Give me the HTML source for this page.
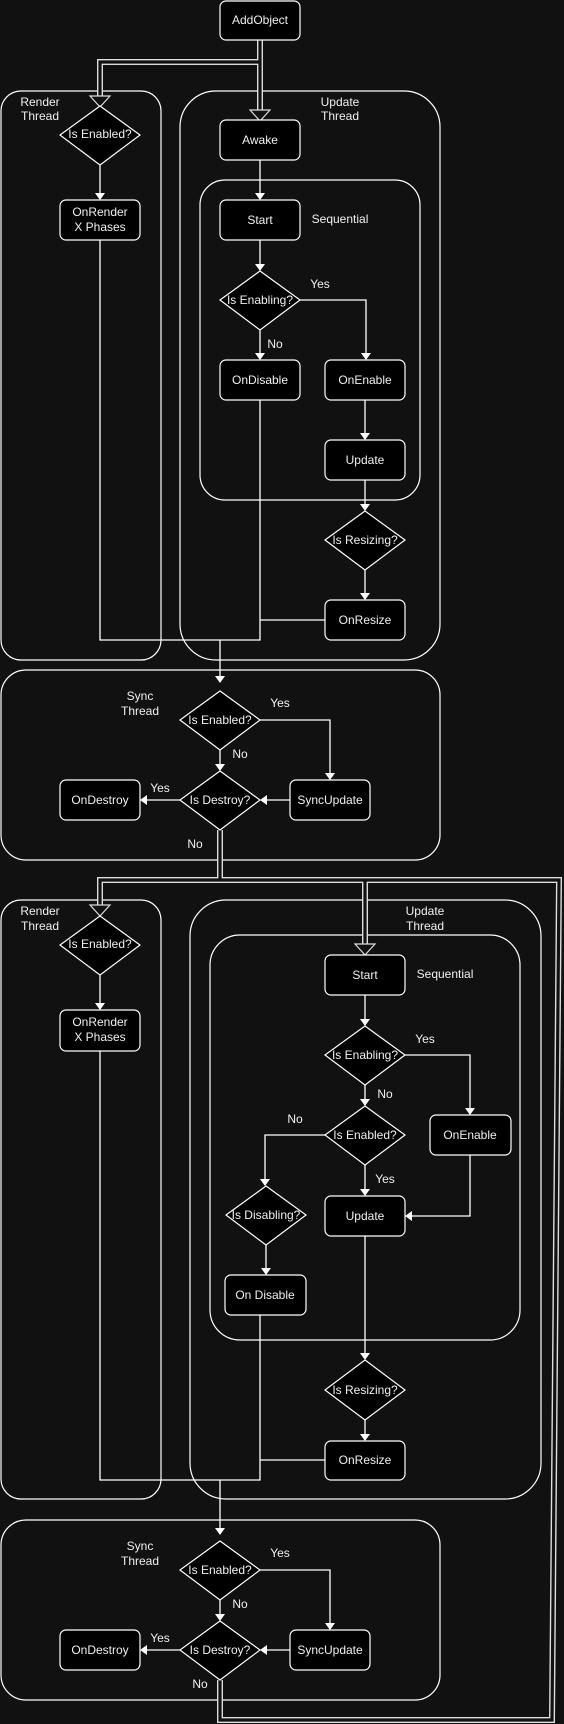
<!DOCTYPE html>
<html><head><meta charset="utf-8"><style>
html,body{margin:0;padding:0;background:#111;}
svg{display:block}
text{font-family:"Liberation Sans",sans-serif;font-size:12px;fill:#f0f0f0;text-anchor:middle;dominant-baseline:middle}
.b{fill:none;stroke:#ddd;stroke-width:6;}
.d{fill:none;stroke:#111;stroke-width:3.2;}
.g{fill:none;stroke:#fff;stroke-width:1.2;}
.l{fill:none;stroke:#fff;stroke-width:1.3;}
.n{fill:#000;stroke:#fff;stroke-width:1.2;}
.ah{fill:#fff;stroke:none}
.ha{fill:#111;stroke:#ddd;stroke-width:1.2}
</style></head><body>
<svg width="564" height="1724" viewBox="0 0 564 1724" xmlns="http://www.w3.org/2000/svg">
<rect width="564" height="1724" fill="#111"/>
<rect class="g" x="1" y="91" width="160" height="569" rx="20"/>
<rect class="g" x="180" y="91" width="260" height="569" rx="36"/>
<rect class="g" x="200" y="180" width="220" height="320" rx="25"/>
<rect class="g" x="1" y="670" width="439" height="190" rx="25"/>
<rect class="g" x="1" y="900" width="160" height="599" rx="20"/>
<rect class="g" x="190" y="900" width="351" height="599" rx="36"/>
<rect class="g" x="210" y="935" width="310" height="405" rx="30"/>
<rect class="g" x="1" y="1520" width="439" height="180" rx="25"/>
<text x="40" y="103">Render</text><text x="40" y="117">Thread</text>
<text x="340" y="103">Update</text><text x="340" y="117">Thread</text>
<text x="340" y="220">Sequential</text>
<text x="140" y="697">Sync</text><text x="140" y="712">Thread</text>
<text x="40" y="912">Render</text><text x="40" y="927">Thread</text>
<text x="425" y="912">Update</text><text x="425" y="927">Thread</text>
<text x="445" y="975">Sequential</text>
<text x="140" y="1547">Sync</text><text x="140" y="1562">Thread</text>

<g>
<path class="b" d="M260,40 V114 M260,62 H100 V101"/>
<path class="b" d="M220,830 V880 H100 V908 M220,880 H365 V947 M220,1680 V1720 H552 L559,880 H365"/>
<path class="d" d="M260,40 V114 M260,62 H100 V101"/>
<path class="d" d="M220,830 V880 H100 V908 M220,880 H365 V947 M220,1680 V1720 H552 L559,880 H365"/>
<polygon class="ha" points="250,110 270,110 260,121"/>
<polygon class="ha" points="90,96 110,96 100,107"/>
<polygon class="ha" points="90,905 110,905 100,916"/>
<polygon class="ha" points="355,944 375,944 365,955"/>
</g>

<path class="l" d="M100,165 V194 M260,160 V194 M260,240 V265 M300,300 H366 V354 M260,330 V354 M365,400 V434 M365,480 V505 M365,570 V594"/>
<path class="l" d="M100,240 V640 H260 V400 M325,620 H260 M220,640 V677"/>
<polygon class="ah" points="95,193 105,193 100,200"/><polygon class="ah" points="255,193 265,193 260,200"/>
<polygon class="ah" points="255,264 265,264 260,271"/><polygon class="ah" points="361,353 371,353 366,360"/>
<polygon class="ah" points="255,353 265,353 260,360"/><polygon class="ah" points="360,433 370,433 365,440"/>
<polygon class="ah" points="360,504 370,504 365,511"/><polygon class="ah" points="360,593 370,593 365,600"/>
<polygon class="ah" points="215,676 225,676 220,683"/>
<path class="l" d="M260,720 H330 V774 M220,750 V765 M290,800 H266 M180,800 H146"/>
<polygon class="ah" points="325,773 335,773 330,780"/><polygon class="ah" points="215,764 225,764 220,771"/>
<polygon class="ah" points="267,795 267,805 260,800"/><polygon class="ah" points="147,795 147,805 140,800"/>
<path class="l" d="M100,975 V1004 M365,995 V1020 M405,1055 H470 V1109 M365,1085 V1100 M325,1135 H265 V1180 M365,1165 V1190 M470,1155 V1216 H411 M266,1245 V1269 M365,1236 V1354 M365,1420 V1435"/>
<path class="l" d="M100,1051 V1480 H260 V1315 M325,1460 H260 M220,1480 V1529"/>
<polygon class="ah" points="95,1003 105,1003 100,1010"/><polygon class="ah" points="360,1019 370,1019 365,1026"/>
<polygon class="ah" points="465,1108 475,1108 470,1115"/><polygon class="ah" points="360,1099 370,1099 365,1106"/>
<polygon class="ah" points="260,1179 270,1179 265,1186"/><polygon class="ah" points="360,1189 370,1189 365,1196"/>
<polygon class="ah" points="412,1211 412,1221 405,1216"/><polygon class="ah" points="261,1268 271,1268 266,1275"/>
<polygon class="ah" points="360,1353 370,1353 365,1360"/><polygon class="ah" points="360,1434 370,1434 365,1441"/>
<polygon class="ah" points="215,1528 225,1528 220,1535"/>
<path class="l" d="M260,1570 H330 V1624 M220,1600 V1615 M290,1650 H266 M180,1650 H146"/>
<polygon class="ah" points="325,1623 335,1623 330,1630"/><polygon class="ah" points="215,1614 225,1614 220,1621"/>
<polygon class="ah" points="267,1645 267,1655 260,1650"/><polygon class="ah" points="147,1645 147,1655 140,1650"/>

<rect class="n" x="220" y="1" width="80" height="39" rx="6"/><text x="260" y="21">AddObject</text>
<polygon class="n" points="100,106 140,135 100,165 60,135"/><text x="100" y="135">Is Enabled?</text>
<rect class="n" x="60" y="200" width="80" height="40" rx="6"/><text x="100" y="213">OnRender</text><text x="100" y="228">X Phases</text>
<rect class="n" x="220" y="120" width="80" height="40" rx="6"/><text x="260" y="141">Awake</text>
<rect class="n" x="220" y="200" width="80" height="40" rx="6"/><text x="260" y="221">Start</text>
<polygon class="n" points="260,271 300,300 260,330 220,300"/><text x="260" y="301">Is Enabling?</text>
<text x="320" y="285">Yes</text><text x="275" y="345">No</text>
<rect class="n" x="220" y="360" width="80" height="40" rx="6"/><text x="260" y="381">OnDisable</text>
<rect class="n" x="325" y="360" width="80" height="40" rx="6"/><text x="365" y="381">OnEnable</text>
<rect class="n" x="325" y="440" width="80" height="40" rx="6"/><text x="365" y="461">Update</text>
<polygon class="n" points="365,511 405,540 365,570 325,540"/><text x="365" y="541">Is Resizing?</text>
<rect class="n" x="325" y="600" width="80" height="40" rx="6"/><text x="365" y="621">OnResize</text>
<polygon class="n" points="220,691 260,720 220,750 180,720"/><text x="220" y="721">Is Enabled?</text>
<text x="280" y="704">Yes</text><text x="240" y="755">No</text>
<polygon class="n" points="220,771 260,800 220,830 180,800"/><text x="220" y="801">Is Destroy?</text>
<rect class="n" x="290" y="780" width="80" height="40" rx="6"/><text x="330" y="801">SyncUpdate</text>
<rect class="n" x="60" y="780" width="80" height="40" rx="6"/><text x="100" y="801">OnDestroy</text>
<text x="160" y="789">Yes</text><text x="195" y="845">No</text>
<polygon class="n" points="100,916 140,945 100,975 60,945"/><text x="100" y="945">Is Enabled?</text>
<rect class="n" x="60" y="1010" width="80" height="41" rx="6"/><text x="100" y="1023">OnRender</text><text x="100" y="1038">X Phases</text>
<rect class="n" x="325" y="955" width="80" height="40" rx="6"/><text x="365" y="976">Start</text>
<polygon class="n" points="365,1026 405,1055 365,1085 325,1055"/><text x="365" y="1056">Is Enabling?</text>
<text x="425" y="1040">Yes</text><text x="385" y="1095">No</text>
<polygon class="n" points="365,1106 405,1135 365,1165 325,1135"/><text x="365" y="1136">Is Enabled?</text>
<text x="295" y="1120">No</text><text x="385" y="1180">Yes</text>
<rect class="n" x="430" y="1115" width="81" height="40" rx="6"/><text x="470" y="1136">OnEnable</text>
<polygon class="n" points="266,1186 306,1215 266,1245 226,1215"/><text x="266" y="1216">Is Disabling?</text>
<rect class="n" x="325" y="1196" width="80" height="40" rx="6"/><text x="365" y="1217">Update</text>
<rect class="n" x="225" y="1275" width="81" height="40" rx="6"/><text x="265" y="1296">On Disable</text>
<polygon class="n" points="365,1360 405,1390 365,1420 325,1390"/><text x="365" y="1391">Is Resizing?</text>
<rect class="n" x="325" y="1441" width="80" height="39" rx="6"/><text x="365" y="1461">OnResize</text>
<polygon class="n" points="220,1541 260,1570 220,1600 180,1570"/><text x="220" y="1571">Is Enabled?</text>
<text x="280" y="1554">Yes</text><text x="240" y="1605">No</text>
<polygon class="n" points="220,1621 260,1650 220,1680 180,1650"/><text x="220" y="1651">Is Destroy?</text>
<rect class="n" x="290" y="1630" width="80" height="40" rx="6"/><text x="330" y="1651">SyncUpdate</text>
<rect class="n" x="60" y="1630" width="80" height="40" rx="6"/><text x="100" y="1651">OnDestroy</text>
<text x="160" y="1639">Yes</text><text x="200" y="1685">No</text>
</svg>
</body></html>
